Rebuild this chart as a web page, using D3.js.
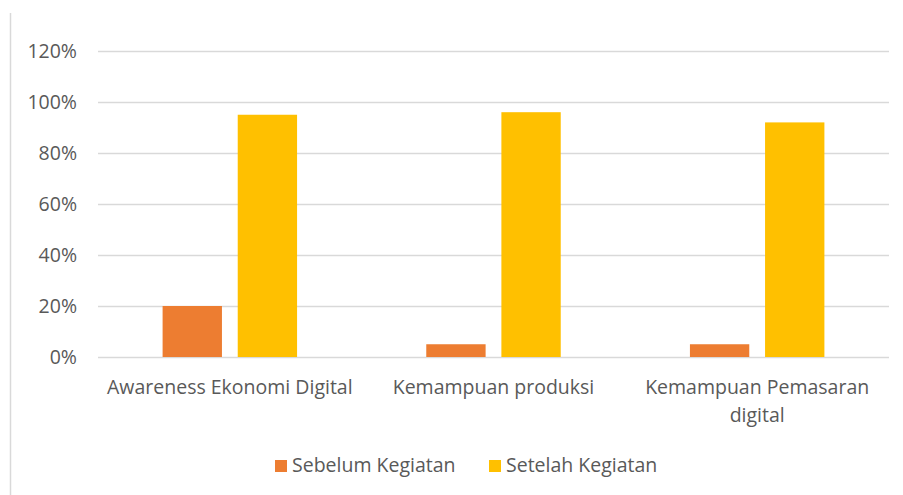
<!DOCTYPE html>
<html>
<head>
<meta charset="utf-8">
<script src="https://cdn.jsdelivr.net/npm/d3@7"></script>
<style>
  body { margin: 0; background: #ffffff; }
  svg { display: block; font-family: "Open Sans", sans-serif; }
</style>
</head>
<body>
<svg id="chart" width="903" height="495"></svg>
<script>
// chart data
const categories = [["Awareness Ekonomi Digital"], ["Kemampuan produksi"], ["Kemampuan Pemasaran", "digital"]];
const seriesNames = ["Sebelum Kegiatan", "Setelah Kegiatan"];
const sebelum = [0.20, 0.05, 0.05];
const setelah = [0.95, 0.96, 0.92];
const yTicks = [0, 0.2, 0.4, 0.6, 0.8, 1.0, 1.2];

const colors = ["#ED7D31", "#FFC000"];

const width = 903, height = 495;
const marginLeft = 98, marginRight = 14, marginTop = 51, plotBottom = 357;
const fontSize = "19.5px";

const svg = d3.select("#chart");

// light frame line on the left
svg.append("line")
    .attr("x1", 10.5).attr("x2", 10.5)
    .attr("y1", 13).attr("y2", height)
    .attr("stroke", "#d9d9d9")
    .attr("stroke-width", 1.5);

const catKeys = categories.map(d => d.join(" "));

const x0 = d3.scaleBand()
    .domain(catKeys)
    .range([marginLeft, width - marginRight])
    .paddingInner(0.49)
    .paddingOuter(0.245);

const x1 = d3.scaleBand()
    .domain(seriesNames)
    .range([0, x0.bandwidth()])
    .paddingInner(0.21);

const y = d3.scaleLinear()
    .domain([0, 1.2])
    .range([plotBottom, marginTop]);

// gridlines + y labels
const yAxis = svg.append("g")
    .attr("transform", `translate(${marginLeft},0)`)
    .call(d3.axisLeft(y)
        .tickValues(yTicks)
        .tickSize(-(width - marginRight - marginLeft))
        .tickPadding(21)
        .tickFormat(d => Math.round(d * 100) + "%"));
yAxis.select(".domain").remove();
yAxis.selectAll(".tick line")
    .attr("stroke", "#d9d9d9")
    .attr("stroke-width", 1.5);
yAxis.selectAll(".tick text")
    .attr("fill", "#595959")
    .style("font-size", fontSize)
    .style("font-family", "Open Sans, sans-serif");

// bars
const rows = catKeys.map((c, i) => ({ cat: c, values: [sebelum[i], setelah[i]] }));

const groups = svg.selectAll(".grp")
    .data(rows)
    .enter().append("g")
    .attr("class", "grp")
    .attr("transform", d => `translate(${x0(d.cat)},0)`);

groups.selectAll("rect")
    .data(d => d.values.map((v, j) => ({ key: seriesNames[j], value: v, j: j })))
    .enter().append("rect")
    .attr("x", d => x1(d.key))
    .attr("width", x1.bandwidth())
    .attr("y", d => y(d.value))
    .attr("height", d => y(0) - y(d.value))
    .attr("fill", d => colors[d.j]);

// category labels
const catLabels = svg.selectAll(".cat")
    .data(categories)
    .enter().append("text")
    .attr("class", "cat")
    .attr("x", d => x0(d.join(" ")) + x0.bandwidth() / 2)
    .attr("y", 394)
    .attr("text-anchor", "middle")
    .attr("fill", "#595959")
    .style("font-size", fontSize);
catLabels.selectAll("tspan")
    .data(d => d)
    .enter().append("tspan")
    .attr("x", function() { return d3.select(this.parentNode).attr("x"); })
    .attr("dy", (d, i) => i === 0 ? 0 : 28)
    .text(d => d);

// legend
const legendX = [275, 489];
const legend = svg.selectAll(".leg")
    .data(seriesNames)
    .enter().append("g")
    .attr("class", "leg")
    .attr("transform", (d, i) => `translate(${legendX[i]},460)`);
legend.append("rect")
    .attr("width", 12).attr("height", 12)
    .attr("fill", (d, i) => colors[i]);
legend.append("text")
    .attr("x", 17)
    .attr("y", 12)
    .attr("fill", "#595959")
    .style("font-size", fontSize)
    .text(d => d);
</script>
</body>
</html>
